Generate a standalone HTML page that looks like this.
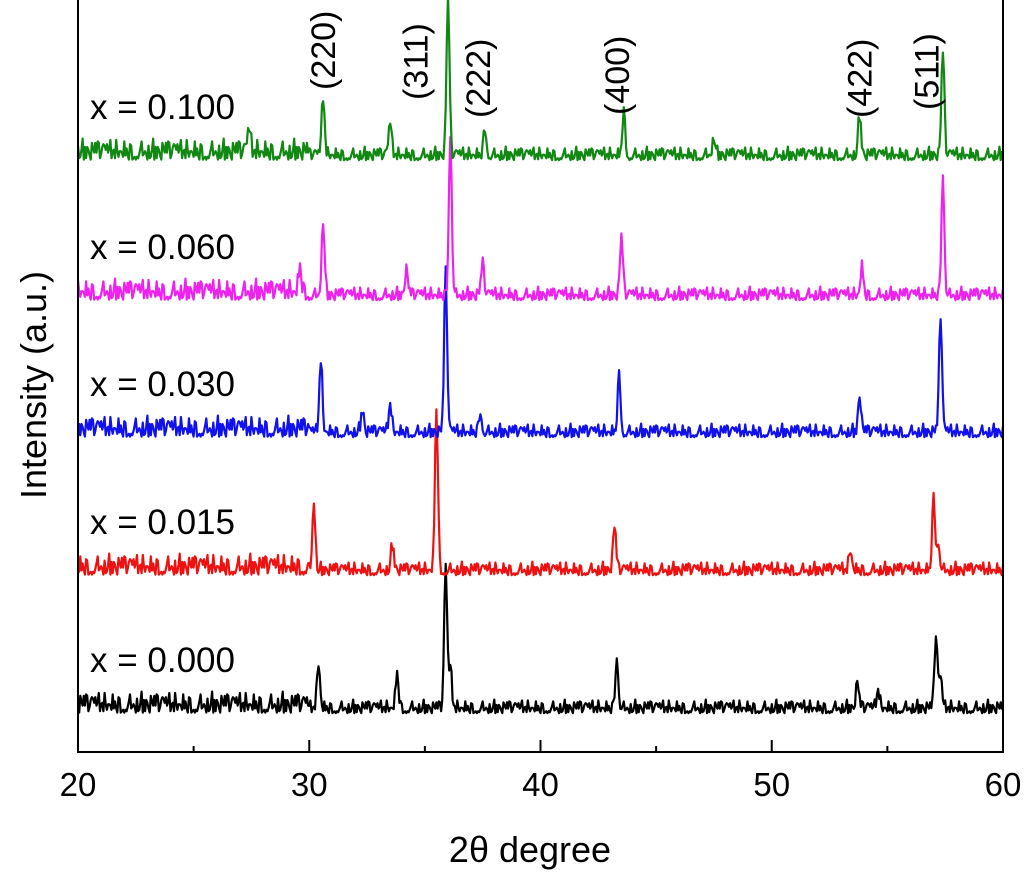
<!DOCTYPE html>
<html><head><meta charset="utf-8"><style>
html,body{margin:0;padding:0;background:#fff;}
svg{display:block;font-family:"Liberation Sans",Arial,sans-serif;}
</style></head><body>
<svg id="chart" width="1024" height="877" viewBox="0 0 1024 877" xmlns="http://www.w3.org/2000/svg">
<g id="plot"></g>
<g id="axes"></g>
<text x="530" y="862" font-size="36" text-anchor="middle">2θ degree</text>
<text transform="translate(46,385) rotate(-90)" font-size="36" text-anchor="middle">Intensity (a.u.)</text>
</svg>
<script>
const xTicks = [20, 30, 40, 50, 60];
const seriesNames = ["x = 0.000", "x = 0.015", "x = 0.030", "x = 0.060", "x = 0.100"];
const seriesColors = ["#000000", "#ee1111", "#1111ee", "#ee22ee", "#118811"];
const seriesOffsets = [0, 138, 276, 413, 553];
const peakLabels = ["(220)", "(311)", "(222)", "(400)", "(422)", "(511)"];
const peakLabelPos = [30.6, 34.6, 37.3, 43.3, 53.8, 56.7];
const peakLabelEnd = [90, 100, 118, 115, 118, 110];
const peaks0 = [[30.4, 45], [33.8, 35], [35.9, 140], [36.1, 40], [43.3, 53], [53.7, 25], [54.6, 18], [57.1, 73], [57.3, 30]];
const peaks1 = [[30.2, 68], [33.6, 25], [35.5, 163], [43.2, 43], [53.4, 20], [57.0, 73], [57.2, 30]];
const peaks2 = [[30.5, 73], [32.3, 22], [33.5, 28], [35.9, 160], [37.4, 22], [43.4, 58], [53.8, 37], [57.3, 117]];
const peaks3 = [[29.6, 25], [30.6, 75], [34.2, 25], [36.1, 163], [37.5, 31], [43.5, 56], [53.9, 28], [57.4, 123]];
const peaks4 = [[27.4, 22], [30.6, 58], [33.5, 32], [36.0, 155], [37.6, 28], [43.6, 43], [47.5, 18], [53.8, 40], [57.4, 103]];
const allPeaks = [peaks0, peaks1, peaks2, peaks3, peaks4];
const noise = [4,12,2,9,15,3,7,1,11,5,14,2,8,6,13,1,10,4,7,16,3,9,2,12,5,8,1,14,6,3,11,7,2,10,4,13,1,8,5,15,2,9,6,3,12,1,7,10,4,14,2,6,11,3,8,1,13,5,9,2,7];

const X = v => 78 + (v - 20) * (1003 - 78) / 40;
const baseY = 714;
const Y = v => baseY - v;
const ns = "http://www.w3.org/2000/svg";
const plot = document.getElementById('plot');
const axes = document.getElementById('axes');

function mk(tag, attrs, parent) {
  const e = document.createElementNS(ns, tag);
  for (const k in attrs) e.setAttribute(k, attrs[k]);
  parent.appendChild(e);
  return e;
}

allPeaks.forEach((pk, si) => {
  const pts = [];
  for (let i = 0; i <= 800; i++) {
    const t = 20 + i * 0.05;
    const amp = t < 30 ? 1.4 : 0.9;
    let v = seriesOffsets[si] + noise[(i * 7 + si * 13) % noise.length] * amp;
    pk.forEach(p => { v += p[1] * Math.exp(-Math.pow((t - p[0]) / 0.09, 2)); });
    pts.push(X(t).toFixed(1) + "," + Y(v).toFixed(1));
  }
  const line = mk('polyline', {points: pts.join(" "), fill: "none", stroke: seriesColors[si], "stroke-width": 2.2, "stroke-linejoin": "round"}, plot);
  
  
  const lab = mk('text', {x: 90, y: Y(seriesOffsets[si] + 42), "font-size": 35}, plot);
  lab.textContent = seriesNames[si];
  
  
});

peakLabels.forEach((l, i) => {
  const t = mk('text', {transform: "translate(" + (X(peakLabelPos[i]) + 12) + "," + peakLabelEnd[i] + ") rotate(-90)", "font-size": 34, "text-anchor": "start"}, plot);
  t.textContent = l;
  
  
});

const frame = mk('path', {d: "M78,0 V752 H1003 V0", fill: "none", stroke: "#000", "stroke-width": 2}, axes);


for (let v = 20; v <= 60; v += 5) {
  const major = v % 10 === 0;
  const tk = mk('line', {x1: X(v), x2: X(v), y1: 752, y2: major ? 740 : 746, stroke: "#000", "stroke-width": 2}, axes);
  
  
}
xTicks.forEach(v => {
  const t = mk('text', {x: X(v), y: 796, "font-size": 33, "text-anchor": "middle"}, axes);
  t.textContent = v;
  
  
});
</script>
</body></html>
